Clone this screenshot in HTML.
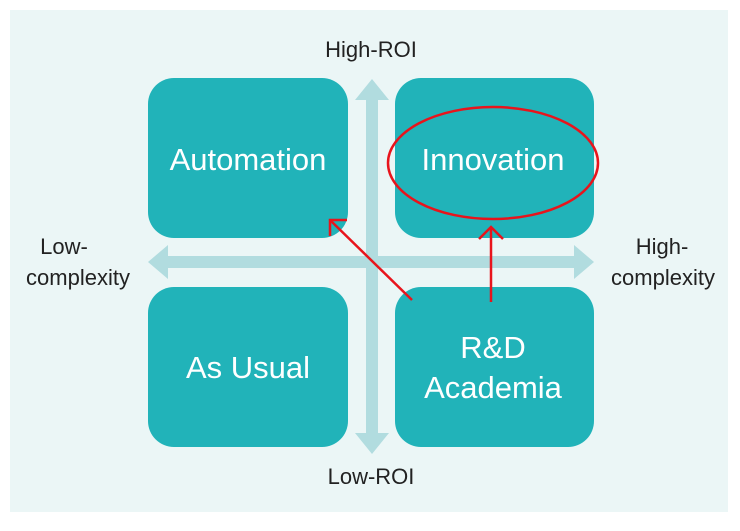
<!DOCTYPE html>
<html><head><style>
body{margin:0;background:#fff;width:740px;height:526px;overflow:hidden;font-family:"Liberation Sans",sans-serif}
</style></head><body>
<svg width="740" height="526" xmlns="http://www.w3.org/2000/svg">
<rect x="10" y="10" width="718" height="502" fill="#ebf6f6"/>
<g fill="#21b3b9">
<rect x="148" y="78" width="200" height="160" rx="26"/>
<rect x="395" y="78" width="199" height="160" rx="26"/>
<rect x="148" y="287" width="200" height="160" rx="26"/>
<rect x="395" y="287" width="199" height="160" rx="26"/>
</g>
<g fill="#b1dcdf">
<rect x="366" y="98" width="12" height="340"/>
<polygon points="355,100 372,79 389,100"/>
<polygon points="355,433 372,454 389,433"/>
<rect x="166" y="256" width="410" height="12"/>
<polygon points="168,245 148,262 168,279"/>
<polygon points="574,245 594,262 574,279"/>
</g>
<g fill="#fff" font-size="31" text-anchor="middle">
<text x="248" y="170">Automation</text>
<text x="493" y="170">Innovation</text>
<text x="248" y="378">As Usual</text>
<text x="493" y="358">R&amp;D</text>
<text x="493" y="398">Academia</text>
</g>
<g fill="#222" font-size="22" text-anchor="middle">
<text x="371" y="57">High-ROI</text>
<text x="371" y="484">Low-ROI</text>
<text x="64" y="254">Low-</text>
<text x="78" y="285">complexity</text>
<text x="662" y="254">High-</text>
<text x="663" y="285">complexity</text>
</g>
<g stroke="#e8141c" stroke-width="2.5" fill="none">
<ellipse cx="493" cy="163" rx="105" ry="56"/>
<line x1="412" y1="300" x2="330" y2="220"/>
<polyline points="330,236 330,220 347,220"/>
<line x1="491" y1="302" x2="491" y2="227"/>
<polyline points="479,239 491,227 503,239"/>
</g>
</svg>
</body></html>
